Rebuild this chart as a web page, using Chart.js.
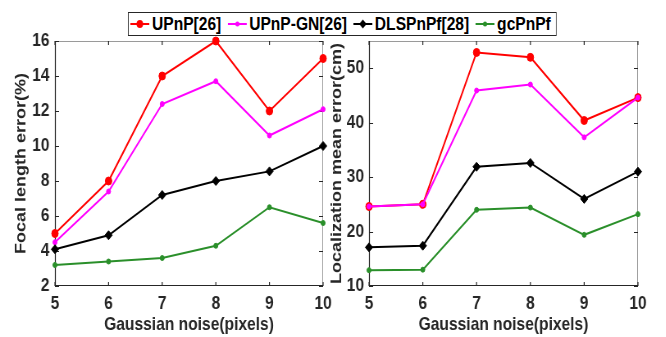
<!DOCTYPE html>
<html><head><meta charset="utf-8">
<script src="https://cdn.jsdelivr.net/npm/chart.js@4"></script>
<style>
html,body{margin:0;padding:0;background:#fff;width:666px;height:337px;overflow:hidden;}
#wrap{position:absolute;left:0;top:0;width:812px;height:337px;transform:scaleX(0.82);transform-origin:0 0;}
#c1{position:absolute;left:0;top:0;}
#c2{position:absolute;left:390px;top:0;}
#legend{position:absolute;left:156px;top:12px;height:22px;border:1px solid #262626;background:#fff;
  font:bold 19px "Liberation Sans",Arial,sans-serif;color:#000;display:flex;align-items:center;padding:0 6px 0 2.4px;}
.item{display:flex;align-items:center;margin-right:8px;white-space:nowrap;line-height:22px;}
.item:last-child{margin-right:0;}
.ic{width:23px;height:12px;margin-right:3px;display:block;}
</style></head>
<body>
<div id="wrap">
<canvas id="c1" width="406" height="337"></canvas>
<canvas id="c2" width="422" height="337"></canvas>
<div id="legend"></div>
</div>
<script>
// ---- data ----
const noiseLevels = [5, 6, 7, 8, 9, 10];
const seriesNames = ['UPnP[26]', 'UPnP-GN[26]', 'DLSPnPf[28]', 'gcPnPf'];
// Focal length error (%)
const focalUPnP    = [5.0, 8.0, 14.0, 16.0, 12.0, 15.0];
const focalUPnPGN  = [4.5, 7.4, 12.4, 13.7, 10.6, 12.1];
const focalDLSPnPf = [4.1, 4.9, 7.2, 8.0, 8.55, 10.0];
const focalGcPnPf  = [3.2, 3.4, 3.6, 4.3, 6.5, 5.6];
// Localization mean error (cm)
const locUPnP    = [24.6, 25.0, 52.9, 52.0, 40.4, 44.6];
const locUPnPGN  = [24.6, 25.0, 45.9, 47.0, 37.3, 44.6];
const locDLSPnPf = [17.1, 17.4, 31.9, 32.6, 26.0, 31.0];
const locGcPnPf  = [12.9, 13.0, 24.0, 24.4, 19.4, 23.2];
// tick labels
const focalTicks = [2, 4, 6, 8, 10, 12, 14, 16];
const locTicks   = [10, 20, 30, 40, 50];

// ---- styles ----
const seriesStyles = [
  {color:'#ff0000', shape:'circle',  r:4,   order:4},
  {color:'#ff00ff', shape:'circle',  r:2.5, order:3},
  {color:'#000000', shape:'rectRot', r:4.5, order:2},
  {color:'#2a8f2a', shape:'circle',  r:2.5, order:1}
];
const FONT = '"Liberation Sans", Arial, sans-serif';
const AX = '#262626';

const boxPlugin = {
  id: 'matlabBox',
  beforeDatasetsDraw(chart) {
    const {ctx, chartArea: a, scales: {x, y}} = chart;
    ctx.save();
    ctx.lineWidth = 1;
    ctx.strokeStyle = '#9a9a9a';
    ctx.beginPath();
    ctx.moveTo(a.left, a.top + 0.5); ctx.lineTo(a.right, a.top + 0.5);
    ctx.moveTo(a.right - 0.5, a.top); ctx.lineTo(a.right - 0.5, a.bottom);
    ctx.stroke();
    ctx.strokeStyle = AX;
    ctx.lineWidth = 1.2;
    ctx.beginPath();
    ctx.moveTo(a.left + 0.5, a.top); ctx.lineTo(a.left + 0.5, a.bottom);
    ctx.moveTo(a.left, a.bottom - 0.5); ctx.lineTo(a.right, a.bottom - 0.5);
    x.ticks.forEach(t => {
      const p = x.getPixelForValue(t.value);
      ctx.moveTo(p, a.bottom); ctx.lineTo(p, a.bottom - 4);
      ctx.moveTo(p, a.top); ctx.lineTo(p, a.top + 4);
    });
    y.ticks.forEach(t => {
      const p = Math.round(y.getPixelForValue(t.value)) + 0.5;
      ctx.moveTo(a.left, p); ctx.lineTo(a.left + 5, p);
      ctx.moveTo(a.right, p); ctx.lineTo(a.right - 5, p);
    });
    ctx.stroke();
    ctx.restore();
  }
};

function makeDatasets(arrs) {
  return arrs.map((vals, i) => {
    const s = seriesStyles[i];
    return {
      label: seriesNames[i],
      data: noiseLevels.map((n, k) => ({x: n, y: vals[k]})),
      borderColor: s.color, backgroundColor: s.color,
      borderWidth: 2, pointStyle: s.shape, pointRadius: s.r,
      pointBorderWidth: 1, pointBorderColor: s.color, pointBackgroundColor: s.color,
      tension: 0, order: s.order, clip: false
    };
  });
}

const tickFont   = {family: FONT, size: 19, weight: 'bold', lineHeight: 1};
const xTitleFont = {family: FONT, size: 19, weight: 'bold', lineHeight: 1};
const yTitleFont = {family: FONT, size: 18, weight: 'bold', lineHeight: 1};

function makeChart(id, arrs, yTicks, yMin, yMax, yTitle, yWidth, yTitlePad, yTickPad, padRight) {
  return new Chart(document.getElementById(id), {
    type: 'line',
    data: {datasets: makeDatasets(arrs)},
    options: {
      responsive: false, animation: false, devicePixelRatio: 1,
      layout: {padding: {top: 41, right: padRight, left: 0, bottom: 0}},
      plugins: {legend: {display: false}, tooltip: {enabled: false}},
      scales: {
        x: {
          type: 'linear', min: noiseLevels[0], max: noiseLevels[noiseLevels.length - 1],
          afterBuildTicks: sc => { sc.ticks = noiseLevels.map(v => ({value: v})); },
          afterFit: sc => { sc.height = 51; sc.paddingLeft = 0; sc.paddingRight = 0; },
          grid: {display: false, drawTicks: false}, border: {display: false},
          ticks: {color: AX, padding: 8, font: tickFont, maxRotation: 0, autoSkip: false},
          title: {display: true, text: 'Gaussian noise(pixels)', color: AX,
                  font: xTitleFont, padding: {top: 0, bottom: 2.5}}
        },
        y: {
          type: 'linear', min: yMin, max: yMax,
          afterBuildTicks: sc => { sc.ticks = yTicks.map(v => ({value: v})); },
          afterFit: sc => { sc.width = yWidth; sc.paddingTop = 0; sc.paddingBottom = 0; },
          grid: {display: false, drawTicks: false}, border: {display: false},
          ticks: {color: AX, padding: yTickPad, font: tickFont, autoSkip: false},
          title: {display: true, text: yTitle, color: AX,
                  font: yTitleFont, padding: {top: yTitlePad, bottom: 0}}
        }
      }
    },
    plugins: [boxPlugin]
  });
}

makeChart('c1', [focalUPnP, focalUPnPGN, focalDLSPnPf, focalGcPnPf], focalTicks, 2, 16,
          'Focal length error(%)', 67, 16.6, 6.7, 12);
makeChart('c2', [locUPnP, locUPnPGN, locDLSPnPf, locGcPnPf], locTicks, 10, 55,
          'Localization mean error(cm)', 60, 12, 6, 34);

// ---- legend ----
const leg = document.getElementById('legend');
seriesNames.forEach((name, i) => {
  const s = seriesStyles[i];
  const item = document.createElement('div'); item.className = 'item';
  const c = document.createElement('canvas'); c.className = 'ic'; c.width = 23; c.height = 12;
  const g = c.getContext('2d');
  g.strokeStyle = s.color; g.fillStyle = s.color; g.lineWidth = 2;
  g.beginPath(); g.moveTo(0, 6); g.lineTo(23, 6); g.stroke();
  g.beginPath();
  const cx = 11.5;
  if (s.shape === 'rectRot') { g.moveTo(cx, 6 - s.r); g.lineTo(cx + s.r, 6); g.lineTo(cx, 6 + s.r); g.lineTo(cx - s.r, 6); g.closePath(); }
  else { g.arc(cx, 6, s.r, 0, Math.PI * 2); }
  g.fill();
  const t = document.createElement('span'); t.textContent = name;
  item.appendChild(c); item.appendChild(t); leg.appendChild(item);
});
</script>
</body></html>
